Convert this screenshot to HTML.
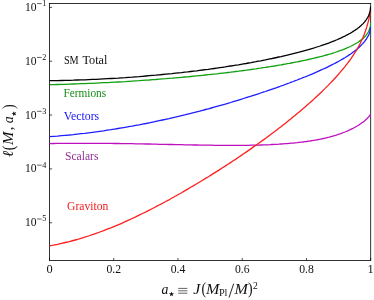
<!DOCTYPE html>
<html><head><meta charset="utf-8">
<style>
html,body{margin:0;padding:0;background:#fff;}
body{width:374px;height:300px;overflow:hidden;}
svg{display:block;font-family:"Liberation Serif",serif;will-change:transform;}
</style></head><body>
<svg width="374" height="300" viewBox="0 0 374 300">
<rect width="374" height="300" fill="#fff"/>
<defs><clipPath id="cp"><rect x="49.5" y="3.5" width="321.59999999999997" height="256.95"/></clipPath></defs>
<g stroke="#000" stroke-width="0.8" fill="none">
<rect x="49.5" y="3.5" width="321.20" height="256.95"/>
</g>
<g stroke="#000" stroke-width="0.7" fill="none">
<line x1="49.5" y1="7.35" x2="52.1" y2="7.35"/><line x1="49.5" y1="61.20" x2="52.1" y2="61.20"/><line x1="49.5" y1="115.05" x2="52.1" y2="115.05"/><line x1="49.5" y1="168.90" x2="52.1" y2="168.90"/><line x1="49.5" y1="222.75" x2="52.1" y2="222.75"/><line x1="49.50" y1="260.45" x2="49.50" y2="258.05"/><line x1="113.74" y1="260.45" x2="113.74" y2="258.05"/><line x1="177.98" y1="260.45" x2="177.98" y2="258.05"/><line x1="242.22" y1="260.45" x2="242.22" y2="258.05"/><line x1="306.46" y1="260.45" x2="306.46" y2="258.05"/><line x1="370.70" y1="260.45" x2="370.70" y2="258.05"/>
</g>
<g clip-path="url(#cp)">
<path d="M49.5,84.7 L53.5,84.6 L57.5,84.5 L61.5,84.4 L65.5,84.3 L69.4,84.1 L73.3,84.0 L77.2,83.9 L81.0,83.7 L84.8,83.6 L88.6,83.4 L92.4,83.3 L96.1,83.1 L99.9,82.9 L103.6,82.7 L107.2,82.6 L110.9,82.4 L114.5,82.2 L118.1,82.0 L121.7,81.8 L125.2,81.6 L128.7,81.3 L132.2,81.1 L135.7,80.9 L139.1,80.7 L142.5,80.4 L145.9,80.2 L149.3,80.0 L152.6,79.7 L155.9,79.5 L159.2,79.2 L162.5,78.9 L165.7,78.7 L169.0,78.4 L172.1,78.2 L175.3,77.9 L178.4,77.6 L181.6,77.3 L184.6,77.0 L187.7,76.8 L190.7,76.5 L193.7,76.2 L196.7,75.9 L199.7,75.6 L202.6,75.3 L205.5,75.0 L208.4,74.7 L211.3,74.4 L214.1,74.1 L216.9,73.8 L219.7,73.4 L222.5,73.1 L225.2,72.8 L227.9,72.5 L230.6,72.2 L233.2,71.8 L235.9,71.5 L238.5,71.2 L241.0,70.8 L243.6,70.5 L246.1,70.2 L248.6,69.8 L251.1,69.5 L253.5,69.1 L256.0,68.8 L258.4,68.4 L260.7,68.1 L263.1,67.7 L265.4,67.4 L267.7,67.0 L270.0,66.7 L272.2,66.3 L274.5,66.0 L276.7,65.6 L278.8,65.2 L281.0,64.9 L283.1,64.5 L285.2,64.1 L287.3,63.7 L289.3,63.4 L291.3,63.0 L293.3,62.6 L295.3,62.2 L297.2,61.9 L299.2,61.5 L301.0,61.1 L302.9,60.7 L304.8,60.3 L306.6,59.9 L308.4,59.5 L310.1,59.1 L311.9,58.7 L313.6,58.3 L315.3,57.9 L316.9,57.5 L318.6,57.1 L320.2,56.7 L321.8,56.3 L323.3,55.9 L324.9,55.4 L326.4,55.0 L327.9,54.6 L329.3,54.2 L330.8,53.8 L332.2,53.3 L333.6,52.9 L334.9,52.5 L336.3,52.0 L337.6,51.6 L338.8,51.1 L340.1,50.7 L341.3,50.2 L342.5,49.8 L343.7,49.3 L344.9,48.8 L346.0,48.4 L347.1,47.9 L348.2,47.4 L349.2,47.0 L350.3,46.5 L351.3,46.0 L352.3,45.5 L353.2,45.0 L354.1,44.5 L355.0,44.0 L355.9,43.5 L356.8,43.0 L357.6,42.5 L358.4,42.0 L359.2,41.4 L359.9,40.9 L360.6,40.4 L361.3,39.8 L362.0,39.3 L362.7,38.7 L363.3,38.2 L363.9,37.6 L364.5,37.0 L365.0,36.5 L365.5,35.9 L366.0,35.3 L366.5,34.7 L366.9,34.1 L367.3,33.5 L367.7,32.9 L368.1,32.3 L368.5,31.6 L368.8,31.0 L369.1,30.4 L369.3,29.7 L369.6,29.1 L369.8,28.4 L370.0,27.7 L370.1,27.1 L370.3,26.4 L370.4,25.7 L370.5,25.0 L370.5,24.2 L370.6,23.5 L370.6,22.8" fill="none" stroke="#10a010" stroke-width="1.3" stroke-linejoin="round"/>
<path d="M49.5,136.7 L53.5,136.4 L57.5,136.1 L61.5,135.7 L65.5,135.3 L69.4,135.0 L73.3,134.6 L77.2,134.1 L81.0,133.7 L84.8,133.3 L88.6,132.8 L92.4,132.3 L96.1,131.8 L99.9,131.3 L103.6,130.8 L107.2,130.2 L110.9,129.7 L114.5,129.1 L118.1,128.5 L121.7,127.9 L125.2,127.3 L128.7,126.7 L132.2,126.1 L135.7,125.4 L139.1,124.8 L142.5,124.1 L145.9,123.5 L149.3,122.8 L152.6,122.1 L155.9,121.4 L159.2,120.7 L162.5,120.0 L165.7,119.3 L169.0,118.6 L172.1,117.8 L175.3,117.1 L178.4,116.4 L181.6,115.6 L184.6,114.9 L187.7,114.1 L190.7,113.4 L193.7,112.6 L196.7,111.8 L199.7,111.1 L202.6,110.3 L205.5,109.5 L208.4,108.8 L211.3,108.0 L214.1,107.2 L216.9,106.4 L219.7,105.6 L222.5,104.8 L225.2,104.1 L227.9,103.3 L230.6,102.5 L233.2,101.7 L235.9,100.9 L238.5,100.1 L241.0,99.3 L243.6,98.5 L246.1,97.7 L248.6,96.9 L251.1,96.2 L253.5,95.4 L256.0,94.6 L258.4,93.8 L260.7,93.0 L263.1,92.2 L265.4,91.5 L267.7,90.7 L270.0,89.9 L272.2,89.1 L274.5,88.3 L276.7,87.6 L278.8,86.8 L281.0,86.0 L283.1,85.3 L285.2,84.5 L287.3,83.7 L289.3,83.0 L291.3,82.2 L293.3,81.5 L295.3,80.7 L297.2,80.0 L299.2,79.2 L301.0,78.5 L302.9,77.7 L304.8,77.0 L306.6,76.3 L308.4,75.5 L310.1,74.8 L311.9,74.1 L313.6,73.3 L315.3,72.6 L316.9,71.9 L318.6,71.1 L320.2,70.4 L321.8,69.7 L323.3,69.0 L324.9,68.3 L326.4,67.6 L327.9,66.9 L329.3,66.1 L330.8,65.4 L332.2,64.7 L333.6,64.0 L334.9,63.3 L336.3,62.6 L337.6,61.9 L338.8,61.2 L340.1,60.5 L341.3,59.8 L342.5,59.1 L343.7,58.4 L344.9,57.7 L346.0,57.0 L347.1,56.3 L348.2,55.6 L349.2,54.9 L350.3,54.2 L351.3,53.5 L352.3,52.8 L353.2,52.1 L354.1,51.4 L355.0,50.7 L355.9,50.0 L356.8,49.3 L357.6,48.6 L358.4,47.9 L359.2,47.2 L359.9,46.5 L360.6,45.8 L361.3,45.1 L362.0,44.4 L362.7,43.7 L363.3,43.0 L363.9,42.3 L364.5,41.6 L365.0,40.9 L365.5,40.2 L366.0,39.5 L366.5,38.8 L366.9,38.1 L367.3,37.4 L367.7,36.7 L368.1,36.1 L368.5,35.4 L368.8,34.7 L369.1,34.0 L369.3,33.3 L369.6,32.6 L369.8,32.0 L370.0,31.3 L370.1,30.6 L370.3,30.0 L370.4,29.3 L370.5,28.7 L370.5,28.0 L370.6,27.4 L370.6,26.7" fill="none" stroke="#1e1eff" stroke-width="1.3" stroke-linejoin="round"/>
<path d="M49.5,143.6 L53.5,143.5 L57.5,143.4 L61.5,143.4 L65.5,143.4 L69.4,143.3 L73.3,143.3 L77.2,143.3 L81.0,143.3 L84.8,143.3 L88.6,143.3 L92.4,143.3 L96.1,143.3 L99.9,143.3 L103.6,143.4 L107.2,143.4 L110.9,143.4 L114.5,143.5 L118.1,143.5 L121.7,143.6 L125.2,143.6 L128.7,143.7 L132.2,143.7 L135.7,143.8 L139.1,143.9 L142.5,143.9 L145.9,144.0 L149.3,144.0 L152.6,144.1 L155.9,144.2 L159.2,144.3 L162.5,144.3 L165.7,144.4 L169.0,144.5 L172.1,144.5 L175.3,144.6 L178.4,144.7 L181.6,144.7 L184.6,144.8 L187.7,144.9 L190.7,144.9 L193.7,145.0 L196.7,145.0 L199.7,145.1 L202.6,145.1 L205.5,145.2 L208.4,145.2 L211.3,145.2 L214.1,145.3 L216.9,145.3 L219.7,145.3 L222.5,145.4 L225.2,145.4 L227.9,145.4 L230.6,145.4 L233.2,145.4 L235.9,145.4 L238.5,145.4 L241.0,145.4 L243.6,145.3 L246.1,145.3 L248.6,145.3 L251.1,145.2 L253.5,145.2 L256.0,145.1 L258.4,145.1 L260.7,145.0 L263.1,144.9 L265.4,144.8 L267.7,144.8 L270.0,144.7 L272.2,144.5 L274.5,144.4 L276.7,144.3 L278.8,144.2 L281.0,144.0 L283.1,143.9 L285.2,143.7 L287.3,143.6 L289.3,143.4 L291.3,143.2 L293.3,143.1 L295.3,142.9 L297.2,142.7 L299.2,142.4 L301.0,142.2 L302.9,142.0 L304.8,141.7 L306.6,141.5 L308.4,141.2 L310.1,141.0 L311.9,140.7 L313.6,140.4 L315.3,140.1 L316.9,139.8 L318.6,139.5 L320.2,139.2 L321.8,138.8 L323.3,138.5 L324.9,138.2 L326.4,137.8 L327.9,137.4 L329.3,137.1 L330.8,136.7 L332.2,136.3 L333.6,135.9 L334.9,135.5 L336.3,135.1 L337.6,134.7 L338.8,134.2 L340.1,133.8 L341.3,133.4 L342.5,132.9 L343.7,132.5 L344.9,132.0 L346.0,131.5 L347.1,131.1 L348.2,130.6 L349.2,130.1 L350.3,129.7 L351.3,129.2 L352.3,128.7 L353.2,128.2 L354.1,127.7 L355.0,127.2 L355.9,126.7 L356.8,126.2 L357.6,125.7 L358.4,125.2 L359.2,124.8 L359.9,124.3 L360.6,123.8 L361.3,123.3 L362.0,122.8 L362.7,122.3 L363.3,121.9 L363.9,121.4 L364.5,120.9 L365.0,120.5 L365.5,120.0 L366.0,119.6 L366.5,119.1 L366.9,118.7 L367.3,118.3 L367.7,117.9 L368.1,117.5 L368.5,117.1 L368.8,116.8 L369.1,116.4 L369.3,116.1 L369.6,115.7 L369.8,115.4 L370.0,115.1 L370.1,114.9 L370.3,114.6 L370.4,114.4 L370.5,114.2 L370.5,114.0 L370.6,113.8 L370.6,113.7" fill="none" stroke="#bf10bf" stroke-width="1.3" stroke-linejoin="round"/>
<path d="M49.5,245.8 L53.5,245.1 L57.5,244.3 L61.5,243.4 L65.5,242.5 L69.4,241.6 L73.3,240.5 L77.2,239.5 L81.0,238.3 L84.8,237.2 L88.6,236.0 L92.4,234.7 L96.1,233.4 L99.9,232.0 L103.6,230.7 L107.2,229.2 L110.9,227.8 L114.5,226.3 L118.1,224.8 L121.7,223.3 L125.2,221.7 L128.7,220.1 L132.2,218.5 L135.7,216.9 L139.1,215.2 L142.5,213.5 L145.9,211.9 L149.3,210.2 L152.6,208.5 L155.9,206.7 L159.2,205.0 L162.5,203.3 L165.7,201.5 L169.0,199.8 L172.1,198.0 L175.3,196.2 L178.4,194.5 L181.6,192.7 L184.6,190.9 L187.7,189.1 L190.7,187.3 L193.7,185.6 L196.7,183.8 L199.7,182.0 L202.6,180.2 L205.5,178.4 L208.4,176.7 L211.3,174.9 L214.1,173.1 L216.9,171.4 L219.7,169.6 L222.5,167.8 L225.2,166.1 L227.9,164.3 L230.6,162.6 L233.2,160.8 L235.9,159.1 L238.5,157.3 L241.0,155.6 L243.6,153.8 L246.1,152.1 L248.6,150.4 L251.1,148.6 L253.5,146.9 L256.0,145.2 L258.4,143.5 L260.7,141.8 L263.1,140.1 L265.4,138.4 L267.7,136.7 L270.0,135.0 L272.2,133.3 L274.5,131.7 L276.7,130.0 L278.8,128.3 L281.0,126.7 L283.1,125.0 L285.2,123.4 L287.3,121.7 L289.3,120.1 L291.3,118.5 L293.3,116.8 L295.3,115.2 L297.2,113.6 L299.2,112.0 L301.0,110.4 L302.9,108.8 L304.8,107.2 L306.6,105.6 L308.4,104.1 L310.1,102.5 L311.9,100.9 L313.6,99.4 L315.3,97.8 L316.9,96.3 L318.6,94.7 L320.2,93.2 L321.8,91.7 L323.3,90.1 L324.9,88.6 L326.4,87.1 L327.9,85.6 L329.3,84.1 L330.8,82.6 L332.2,81.2 L333.6,79.7 L334.9,78.2 L336.3,76.7 L337.6,75.3 L338.8,73.8 L340.1,72.4 L341.3,70.9 L342.5,69.5 L343.7,68.1 L344.9,66.7 L346.0,65.2 L347.1,63.8 L348.2,62.4 L349.2,61.0 L350.3,59.6 L351.3,58.2 L352.3,56.7 L353.2,55.3 L354.1,53.9 L355.0,52.5 L355.9,51.1 L356.8,49.7 L357.6,48.3 L358.4,46.8 L359.2,45.4 L359.9,44.0 L360.6,42.5 L361.3,41.1 L362.0,39.6 L362.7,38.2 L363.3,36.7 L363.9,35.2 L364.5,33.7 L365.0,32.3 L365.5,30.8 L366.0,29.3 L366.5,27.9 L366.9,26.4 L367.3,25.0 L367.7,23.6 L368.1,22.2 L368.5,20.9 L368.8,19.6 L369.1,18.3 L369.3,17.0 L369.6,15.9 L369.8,14.7 L370.0,13.6 L370.1,12.6 L370.3,11.6 L370.4,10.7 L370.5,9.8 L370.5,9.0 L370.6,8.3 L370.6,7.6" fill="none" stroke="#ff1e1e" stroke-width="1.3" stroke-linejoin="round"/>
<path d="M49.5,80.7 L53.5,80.7 L57.5,80.6 L61.5,80.5 L65.5,80.4 L69.4,80.3 L73.3,80.2 L77.2,80.0 L81.0,79.9 L84.8,79.8 L88.6,79.6 L92.4,79.4 L96.1,79.3 L99.9,79.1 L103.6,78.9 L107.2,78.7 L110.9,78.5 L114.5,78.3 L118.1,78.1 L121.7,77.8 L125.2,77.6 L128.7,77.3 L132.2,77.1 L135.7,76.8 L139.1,76.6 L142.5,76.3 L145.9,76.0 L149.3,75.7 L152.6,75.4 L155.9,75.2 L159.2,74.8 L162.5,74.5 L165.7,74.2 L169.0,73.9 L172.1,73.6 L175.3,73.2 L178.4,72.9 L181.6,72.6 L184.6,72.2 L187.7,71.9 L190.7,71.5 L193.7,71.1 L196.7,70.8 L199.7,70.4 L202.6,70.0 L205.5,69.6 L208.4,69.3 L211.3,68.9 L214.1,68.5 L216.9,68.1 L219.7,67.7 L222.5,67.3 L225.2,66.9 L227.9,66.4 L230.6,66.0 L233.2,65.6 L235.9,65.2 L238.5,64.8 L241.0,64.3 L243.6,63.9 L246.1,63.5 L248.6,63.0 L251.1,62.6 L253.5,62.1 L256.0,61.7 L258.4,61.2 L260.7,60.8 L263.1,60.3 L265.4,59.9 L267.7,59.4 L270.0,58.9 L272.2,58.5 L274.5,58.0 L276.7,57.5 L278.8,57.0 L281.0,56.6 L283.1,56.1 L285.2,55.6 L287.3,55.1 L289.3,54.6 L291.3,54.1 L293.3,53.6 L295.3,53.1 L297.2,52.6 L299.2,52.1 L301.0,51.6 L302.9,51.1 L304.8,50.6 L306.6,50.1 L308.4,49.6 L310.1,49.1 L311.9,48.6 L313.6,48.1 L315.3,47.5 L316.9,47.0 L318.6,46.5 L320.2,46.0 L321.8,45.4 L323.3,44.9 L324.9,44.4 L326.4,43.8 L327.9,43.3 L329.3,42.8 L330.8,42.2 L332.2,41.7 L333.6,41.1 L334.9,40.6 L336.3,40.0 L337.6,39.5 L338.8,38.9 L340.1,38.3 L341.3,37.8 L342.5,37.2 L343.7,36.7 L344.9,36.1 L346.0,35.5 L347.1,34.9 L348.2,34.4 L349.2,33.8 L350.3,33.2 L351.3,32.6 L352.3,32.0 L353.2,31.4 L354.1,30.8 L355.0,30.2 L355.9,29.6 L356.8,29.0 L357.6,28.4 L358.4,27.8 L359.2,27.2 L359.9,26.5 L360.6,25.9 L361.3,25.3 L362.0,24.6 L362.7,24.0 L363.3,23.4 L363.9,22.7 L364.5,22.1 L365.0,21.4 L365.5,20.7 L366.0,20.1 L366.5,19.4 L366.9,18.7 L367.3,18.0 L367.7,17.4 L368.1,16.7 L368.5,16.0 L368.8,15.3 L369.1,14.6 L369.3,13.9 L369.6,13.1 L369.8,12.4 L370.0,11.7 L370.1,10.9 L370.3,10.2 L370.4,9.5 L370.5,8.7 L370.5,7.9 L370.6,7.2 L370.6,6.4" fill="none" stroke="#000000" stroke-width="1.3" stroke-linejoin="round"/>
</g>
<g>
<text x="25.0" y="10.85" font-size="12.3" fill="#111" textLength="11.6" lengthAdjust="spacingAndGlyphs">10</text>
<line x1="37.0" y1="3.60" x2="41.7" y2="3.60" stroke="#222" stroke-width="0.7"/>
<text x="42.3" y="6.05" font-size="8.2" fill="#111">1</text>
<text x="25.0" y="64.7" font-size="12.3" fill="#111" textLength="11.6" lengthAdjust="spacingAndGlyphs">10</text>
<line x1="37.0" y1="57.45" x2="41.7" y2="57.45" stroke="#222" stroke-width="0.7"/>
<text x="42.3" y="59.9" font-size="8.2" fill="#111">2</text>
<text x="25.0" y="118.55" font-size="12.3" fill="#111" textLength="11.6" lengthAdjust="spacingAndGlyphs">10</text>
<line x1="37.0" y1="111.30" x2="41.7" y2="111.30" stroke="#222" stroke-width="0.7"/>
<text x="42.3" y="113.75" font-size="8.2" fill="#111">3</text>
<text x="25.0" y="172.4" font-size="12.3" fill="#111" textLength="11.6" lengthAdjust="spacingAndGlyphs">10</text>
<line x1="37.0" y1="165.15" x2="41.7" y2="165.15" stroke="#222" stroke-width="0.7"/>
<text x="42.3" y="167.6" font-size="8.2" fill="#111">4</text>
<text x="25.0" y="226.25" font-size="12.3" fill="#111" textLength="11.6" lengthAdjust="spacingAndGlyphs">10</text>
<line x1="37.0" y1="219.00" x2="41.7" y2="219.00" stroke="#222" stroke-width="0.7"/>
<text x="42.3" y="221.45" font-size="8.2" fill="#111">5</text>
<text x="49.5" y="273.2" font-size="12.3" fill="#111" text-anchor="middle">0</text>
<text x="106.44" y="273.2" font-size="12.3" fill="#111" textLength="14.6" lengthAdjust="spacingAndGlyphs">0.2</text>
<text x="170.68" y="273.2" font-size="12.3" fill="#111" textLength="14.6" lengthAdjust="spacingAndGlyphs">0.4</text>
<text x="234.92" y="273.2" font-size="12.3" fill="#111" textLength="14.6" lengthAdjust="spacingAndGlyphs">0.6</text>
<text x="299.16" y="273.2" font-size="12.3" fill="#111" textLength="14.6" lengthAdjust="spacingAndGlyphs">0.8</text>
<text x="370.7" y="273.2" font-size="12.3" fill="#111" text-anchor="middle">1</text>
<text x="63.9" y="64.3" font-size="13.3" fill="#111" textLength="14.8" lengthAdjust="spacingAndGlyphs">SM</text>
<text x="82.4" y="64.3" font-size="13.3" fill="#111" textLength="25.0" lengthAdjust="spacingAndGlyphs">Total</text>
<text x="63.4" y="96.8" font-size="13.3" fill="#168c16" textLength="42.8" lengthAdjust="spacingAndGlyphs">Fermions</text>
<text x="63.8" y="120.3" font-size="13.3" fill="#1515f5" textLength="35.4" lengthAdjust="spacingAndGlyphs">Vectors</text>
<text x="65" y="159.5" font-size="13.3" fill="#903090" textLength="33.4" lengthAdjust="spacingAndGlyphs">Scalars</text>
<text x="67.0" y="209.5" font-size="13.3" fill="#f51a1a" textLength="41.3" lengthAdjust="spacingAndGlyphs">Graviton</text>
</g>
<g>
<text x="161.6" y="293.5" font-size="15" fill="#111" font-style="italic" textLength="6.9" lengthAdjust="spacingAndGlyphs">a</text>
<polygon points="171.50,291.40 172.13,293.23 174.07,293.27 172.53,294.43 173.09,296.28 171.50,295.18 169.91,296.28 170.47,294.43 168.93,293.27 170.87,293.23" fill="#111"/>
<line x1="178.2" y1="288.4" x2="187.4" y2="288.4" stroke="#222" stroke-width="0.7"/>
<line x1="178.2" y1="290.8" x2="187.4" y2="290.8" stroke="#222" stroke-width="0.7"/>
<line x1="178.2" y1="293.2" x2="187.4" y2="293.2" stroke="#222" stroke-width="0.7"/>
<text x="193.2" y="293.5" font-size="14.5" fill="#111" font-style="italic" textLength="7" lengthAdjust="spacingAndGlyphs">J</text>
<text x="201.5" y="294.4" font-size="17.5" fill="#111" textLength="4.6" lengthAdjust="spacingAndGlyphs">(</text>
<text x="206.0" y="293.5" font-size="14.5" fill="#111" font-style="italic" textLength="13.4" lengthAdjust="spacingAndGlyphs">M</text>
<text x="218.9" y="296" font-size="10.5" fill="#111" textLength="8.6" lengthAdjust="spacingAndGlyphs">Pl</text>
<line x1="229.0" y1="297.6" x2="233.7" y2="283.6" stroke="#111" stroke-width="0.9"/>
<text x="234.4" y="293.5" font-size="14.5" fill="#111" font-style="italic" textLength="13.4" lengthAdjust="spacingAndGlyphs">M</text>
<text x="247.9" y="294.4" font-size="17.5" fill="#111" textLength="4.6" lengthAdjust="spacingAndGlyphs">)</text>
<text x="253.0" y="288.5" font-size="9.5" fill="#111">2</text>
</g>
<g transform="translate(13.4,156.9) rotate(-90)">
<text x="0" y="0" font-size="15" fill="#111" font-style="italic" textLength="6.3" lengthAdjust="spacingAndGlyphs">&#8467;</text>
<text x="6.6" y="0.9" font-size="17.5" fill="#111" textLength="4.6" lengthAdjust="spacingAndGlyphs">(</text>
<text x="11.8" y="0" font-size="14.5" fill="#111" font-style="italic" textLength="13.4" lengthAdjust="spacingAndGlyphs">M</text>
<text x="26.6" y="0" font-size="15" fill="#111">,</text>
<text x="33.6" y="0" font-size="15" fill="#111" font-style="italic" textLength="6.9" lengthAdjust="spacingAndGlyphs">a</text>
<polygon points="43.20,-2.00 43.83,-0.17 45.77,-0.13 44.23,1.03 44.79,2.88 43.20,1.78 41.61,2.88 42.17,1.03 40.63,-0.13 42.57,-0.17" fill="#111"/>
<text x="47.8" y="0.9" font-size="17.5" fill="#111" textLength="4.6" lengthAdjust="spacingAndGlyphs">)</text>
</g>
</svg>
</body></html>
